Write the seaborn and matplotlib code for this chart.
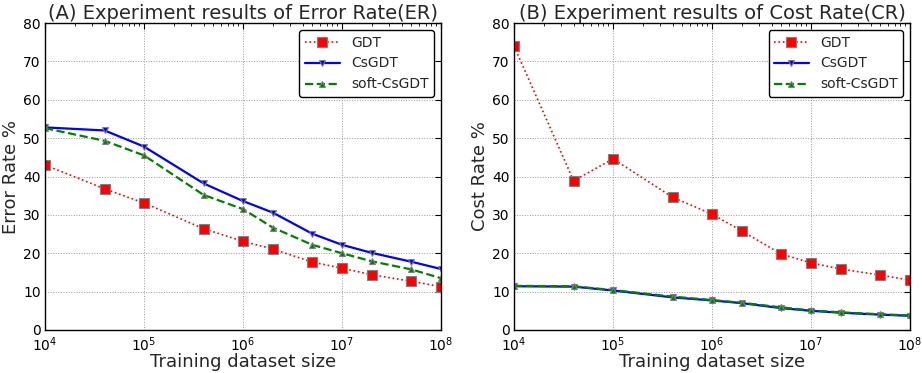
import numpy as np
import pandas as pd
import matplotlib
matplotlib.use('Agg')
import matplotlib.pyplot as plt
import seaborn as sns

sizes = [1e4, 4e4, 1e5, 4e5, 1e6, 2e6, 5e6, 1e7, 2e7, 5e7, 1e8]

er_gdt = [43.0, 36.8, 33.1, 26.4, 23.1, 21.1, 17.7, 16.1, 14.4, 12.7, 11.3]
er_csgdt = [52.8, 52.0, 47.8, 38.2, 33.6, 30.6, 25.1, 22.2, 20.1, 17.8, 15.9]
er_soft = [52.6, 49.3, 45.5, 35.2, 31.5, 26.7, 22.2, 20.0, 17.9, 15.8, 13.5]

cr_gdt = [74.0, 38.9, 44.6, 34.6, 30.2, 25.8, 19.8, 17.5, 15.9, 14.3, 13.0]
cr_csgdt = [11.4, 11.3, 10.3, 8.5, 7.7, 7.0, 5.7, 5.0, 4.5, 4.0, 3.7]
cr_soft = [11.5, 11.4, 10.4, 8.7, 7.8, 7.1, 5.9, 5.1, 4.6, 4.1, 3.8]

sns.set_style("white")
plt.rcParams['font.family'] = ['DejaVu Sans']
plt.rcParams['xtick.direction'] = 'in'
plt.rcParams['ytick.direction'] = 'in'

fig = plt.figure(figsize=(9.22, 3.73), dpi=100)
ax1 = fig.add_axes([0.0488, 0.1153, 0.4295, 0.823])
ax2 = fig.add_axes([0.5575, 0.1153, 0.4295, 0.823])

styles = [
    ('GDT', 'red', ':', 's', 6.5, 1.2),
    ('CsGDT', 'blue', '-', 'v', 5, 1.6),
    ('soft-CsGDT', 'green', '--', '^', 5, 1.6),
]


def draw(ax, series, title, ylabel):
    for (name, color, ls, mk, ms, lw), vals in zip(styles, series):
        sns.lineplot(x=sizes, y=vals, ax=ax, color=color, linestyle=ls,
                     marker=mk, markersize=ms, markeredgecolor='gray',
                     markeredgewidth=0.8, linewidth=lw, label=name)
    ax.set_xscale('log')
    ax.set_xlim(1e4, 1e8)
    ax.set_ylim(0, 80)
    ax.set_yticks(range(0, 81, 10))
    ax.grid(True, which='major', color='#999999', linestyle=':', linewidth=0.7)
    ax.tick_params(which='both', top=True, right=True, labelsize=10,
                   colors='black')
    ax.tick_params(axis='x', pad=4)
    ax.tick_params(axis='y', pad=3)
    ax.tick_params(which='major', length=4)
    ax.tick_params(which='minor', length=2)
    for s in ax.spines.values():
        s.set_color('black')
        s.set_linewidth(1)
    ax.set_title(title, fontsize=14, pad=3)
    ax.set_xlabel('Training dataset size', fontsize=13, labelpad=-1)
    ax.set_ylabel(ylabel, fontsize=13, labelpad=2)
    leg = ax.legend(loc='upper right', fontsize=10, numpoints=1, fancybox=True,
                    framealpha=1, handlelength=2.5, borderaxespad=0.5)
    leg.get_frame().set_edgecolor('black')


draw(ax1, [er_gdt, er_csgdt, er_soft], '(A) Experiment results of Error Rate(ER)', 'Error Rate %')
draw(ax2, [cr_gdt, cr_csgdt, cr_soft], '(B) Experiment results of Cost Rate(CR)', 'Cost Rate %')

fig.savefig('out.png', dpi=100)
